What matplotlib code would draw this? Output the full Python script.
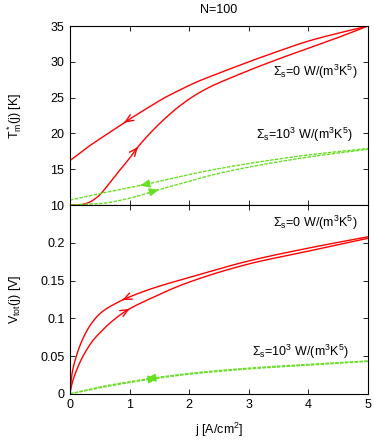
import numpy as np
import matplotlib
matplotlib.use("Agg")
import matplotlib.pyplot as plt

plt.rcParams['font.family'] = ['Liberation Sans', 'DejaVu Sans']
plt.rcParams['mathtext.fontset'] = 'custom'
plt.rcParams['mathtext.rm'] = 'Liberation Sans'
plt.rcParams['mathtext.it'] = 'Liberation Sans'

# ---- data ----
j_T_red_up = [0, 0.13, 0.3, 0.47, 0.64, 0.8, 0.97, 1.12, 1.34, 1.57, 1.85, 2.13, 2.4, 2.68, 3.0, 3.5, 4.0, 4.5, 5.0]
T_red_up = [10.0, 10.0, 10.3, 11.2, 12.8, 14.5, 16.2, 17.9, 20.0, 21.9, 23.9, 25.5, 26.7, 27.7, 28.8, 30.4, 31.9, 33.4, 35.0]
j_T_red_dn = [0, 0.3, 0.64, 0.89, 1.29, 1.57, 1.85, 2.13, 2.4, 2.68, 3.0, 3.5, 4.0, 4.5, 5.0]
T_red_dn = [16.2, 18.1, 20.0, 21.4, 23.5, 24.9, 26.1, 27.2, 28.1, 29.0, 30.0, 31.5, 32.9, 34.0, 35.0]

j_T_green_up = [0, 0.5, 1.0, 1.47, 2.0, 2.29, 3.0, 4.0, 5.0]
T_green_up = [10.0, 10.2, 10.95, 12.1, 13.3, 14.0, 15.3, 16.7, 17.8]
j_T_green_dn = [0, 0.5, 1.14, 2.29, 3.0, 4.0, 5.0]
T_green_dn = [10.7, 11.6, 12.66, 14.76, 15.8, 17.0, 17.9]

j_V_red_up = [0, 0.03, 0.1, 0.22, 0.39, 0.53, 0.69, 0.945, 1.36, 1.95, 3.0, 4.0, 5.0]
V_red_up = [0.0, 0.012, 0.029, 0.050, 0.071, 0.083, 0.095, 0.110, 0.1265, 0.1465, 0.172, 0.189, 0.206]
j_V_red_dn = [0, 0.03, 0.1, 0.2, 0.35, 0.53, 0.75, 0.93, 1.36, 1.95, 3.0, 4.0, 5.0]
V_red_dn = [0.0, 0.024, 0.048, 0.070, 0.092, 0.108, 0.119, 0.126, 0.139, 0.153, 0.176, 0.193, 0.208]

j_V_green = [0, 0.5, 1.0, 1.5, 2.0, 3.0, 4.0, 5.0]
V_green_up = [0.0, 0.008, 0.015, 0.021, 0.026, 0.033, 0.038, 0.043]
V_green_dn = [0.0, 0.009, 0.016, 0.022, 0.027, 0.034, 0.039, 0.0435]

RED = '#ff0000'
GREEN = '#66e020'

fig = plt.figure(figsize=(3.74, 4.41), dpi=100)
ax1 = fig.add_axes([0.187, 0.535, 0.797, 0.406])
ax2 = fig.add_axes([0.187, 0.107, 0.797, 0.428])


def smooth(x, y, n=400):
    x = np.asarray(x, float); y = np.asarray(y, float)
    xs = np.linspace(x[0], x[-1], n)
    h = np.diff(x); d = np.diff(y) / h
    m = np.zeros_like(y)
    for k in range(1, len(x) - 1):
        if d[k - 1] * d[k] > 0:
            w1 = 2 * h[k] + h[k - 1]; w2 = h[k] + 2 * h[k - 1]
            m[k] = (w1 + w2) / (w1 / d[k - 1] + w2 / d[k])
    m[0] = d[0]; m[-1] = d[-1]
    idx = np.clip(np.searchsorted(x, xs) - 1, 0, len(x) - 2)
    t = (xs - x[idx]) / h[idx]
    h00 = 2*t**3 - 3*t**2 + 1; h10 = t**3 - 2*t**2 + t
    h01 = -2*t**3 + 3*t**2; h11 = t**3 - t**2
    ys = h00*y[idx] + h10*h[idx]*m[idx] + h01*y[idx+1] + h11*h[idx]*m[idx+1]
    return xs, ys


def curve(ax, x, y, color, ls, arrow_at, forward, filled):
    xs, ys = smooth(x, y)
    if ls == '--':
        ax.plot(xs, ys, color=color, lw=1.0, ls='--', dashes=(2.5, 1))
    else:
        ax.plot(xs, ys, color=color, lw=1.0)
    x0 = arrow_at
    y0 = np.interp(x0, xs, ys)
    dx = 0.02
    x1 = x0 + dx if forward else x0 - dx
    y1 = np.interp(x1, xs, ys)
    style = '-|>' if filled else '->'
    ax.annotate('', xy=(x1, y1), xytext=(x0, y0),
                arrowprops=dict(arrowstyle=style + ',head_length=0.55,head_width=0.24',
                                color=color, lw=1.0, shrinkA=0, shrinkB=0))


curve(ax1, j_T_red_up, T_red_up, RED, '-', 1.12, True, False)
curve(ax1, j_T_red_dn, T_red_dn, RED, '-', 0.93, False, False)
curve(ax1, j_T_green_up, T_green_up, GREEN, '--', 1.47, True, True)
curve(ax1, j_T_green_dn, T_green_dn, GREEN, '--', 1.2, False, True)

curve(ax2, j_V_red_up, V_red_up, RED, '-', 0.98, True, False)
curve(ax2, j_V_red_dn, V_red_dn, RED, '-', 0.9, False, False)
curve(ax2, j_V_green, V_green_up, GREEN, '--', 1.45, True, True)
curve(ax2, j_V_green, V_green_dn, GREEN, '--', 1.3, False, True)

fs = 9
for ax in (ax1, ax2):
    ax.set_xlim(0, 5)
    ax.set_xticks([0, 1, 2, 3, 4, 5])
    ax.tick_params(direction='in', top=True, right=True, labelsize=fs, length=3.5, width=0.6, pad=4)
    for s in ax.spines.values():
        s.set_linewidth(0.8)

ax1.set_ylim(10, 35)
ax1.set_yticks([10, 15, 20, 25, 30, 35])
ax1.tick_params(labelbottom=False)
ax1.set_ylabel(r'T$^*_\mathrm{m}$(j) [K]', fontsize=fs, va='center')
ax1.yaxis.set_label_coords(-0.185, 0.5)

ax2.set_ylim(0, 0.25)
ax2.set_yticks([0, 0.05, 0.1, 0.15, 0.2])
ax2.set_yticklabels(['0', '0.05', '0.1', '0.15', '0.2'])
ax2.set_ylabel(r'V$_\mathrm{tot}$(j) [V]', fontsize=fs, va='center')
ax2.yaxis.set_label_coords(-0.185, 0.5)
ax2.set_xlabel(r'j [A/cm$^2$]', fontsize=fs, va='center')
ax2.xaxis.set_label_coords(0.5, -0.19)

fig.text(0.5 * (0.187 + 0.984), 1 - 10 / 441, 'N=100', ha='center', va='center', fontsize=fs)

lab0 = r'$\Sigma_\mathrm{s}$=0 W/(m$^3$K$^5$)'
lab3 = r'$\Sigma_\mathrm{s}$=10$^3$ W/(m$^3$K$^5$)'
ax1.text(0.966, 0.743, lab0, transform=ax1.transAxes, ha='right', va='center', fontsize=fs)
ax1.text(0.95, 0.391, lab3, transform=ax1.transAxes, ha='right', va='center', fontsize=fs)
ax2.text(0.966, 0.905, lab0, transform=ax2.transAxes, ha='right', va='center', fontsize=fs)
ax2.text(0.936, 0.223, lab3, transform=ax2.transAxes, ha='right', va='center', fontsize=fs)

fig.savefig('out.png', dpi=100)
